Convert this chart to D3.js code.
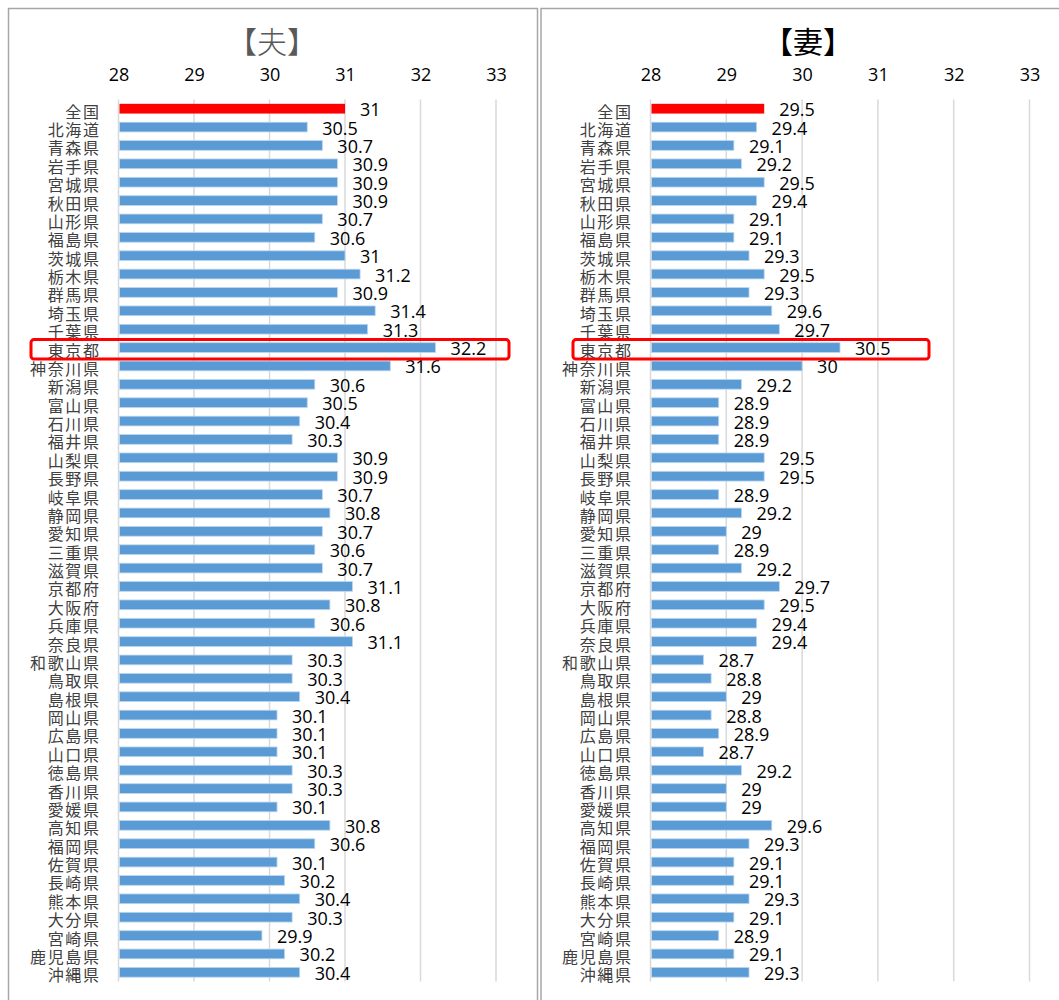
<!DOCTYPE html>
<html>
<head>
<meta charset="utf-8">
<script src="https://cdn.jsdelivr.net/npm/d3@7"></script>
<style>
  html, body { margin: 0; padding: 0; background: #fff; }
  svg { display: block; }
</style>
</head>
<body>
<svg id="chart" width="1059" height="1000"></svg>
<script>
// Prefectures (with the national figure first)
const prefectures = [
  "全国","北海道","青森県","岩手県","宮城県","秋田県","山形県","福島県","茨城県","栃木県",
  "群馬県","埼玉県","千葉県","東京都","神奈川県","新潟県","富山県","石川県","福井県","山梨県",
  "長野県","岐阜県","静岡県","愛知県","三重県","滋賀県","京都府","大阪府","兵庫県","奈良県",
  "和歌山県","鳥取県","島根県","岡山県","広島県","山口県","徳島県","香川県","愛媛県","高知県",
  "福岡県","佐賀県","長崎県","熊本県","大分県","宮崎県","鹿児島県","沖縄県"
];

// Average age at first marriage – husband
const husbandAge = [
  31,30.5,30.7,30.9,30.9,30.9,30.7,30.6,31,31.2,
  30.9,31.4,31.3,32.2,31.6,30.6,30.5,30.4,30.3,30.9,
  30.9,30.7,30.8,30.7,30.6,30.7,31.1,30.8,30.6,31.1,
  30.3,30.3,30.4,30.1,30.1,30.1,30.3,30.3,30.1,30.8,
  30.6,30.1,30.2,30.4,30.3,29.9,30.2,30.4
];

// Average age at first marriage – wife
const wifeAge = [
  29.5,29.4,29.1,29.2,29.5,29.4,29.1,29.1,29.3,29.5,
  29.3,29.6,29.7,30.5,30,29.2,28.9,28.9,28.9,29.5,
  29.5,28.9,29.2,29,28.9,29.2,29.7,29.5,29.4,29.4,
  28.7,28.8,29,28.8,28.9,28.7,29.2,29,29,29.6,
  29.3,29.1,29.1,29.3,29.1,28.9,29.1,29.3
];

const xTicks = [28, 29, 30, 31, 32, 33];
const xDomain = [28, 33];
const highlighted = "東京都";
const nationalLabel = "全国";

const svg = d3.select("#chart");

const numFont = "'Open Sans', 'Noto Sans', sans-serif";
const jpFont = "'Noto Sans CJK JP', 'Noto Sans', sans-serif";

function drawPanel(cfg) {
  const g = svg.append("g");

  // panel frame
  g.append("rect")
    .attr("x", cfg.frameX).attr("y", 8.5)
    .attr("width", cfg.frameW).attr("height", 1100)
    .attr("fill", "#fff")
    .attr("stroke", "#a6a6a6").attr("stroke-width", 1.5);

  const x = d3.scaleLinear().domain(xDomain).range([cfg.x0, cfg.x1]);
  const y = d3.scaleBand().domain(prefectures).range([99.5, 981.5]).paddingInner(0.47).paddingOuter(0.235);

  // title
  g.append("text")
    .attr("x", cfg.titleX).attr("y", 40)
    .attr("text-anchor", "middle").attr("dominant-baseline", "central")
    .attr("font-family", jpFont).attr("font-size", 30)
    .attr("font-weight", cfg.titleWeight)
    .attr("fill", cfg.titleColor)
    .text(cfg.title);

  // vertical gridlines
  g.append("g").selectAll("line").data(xTicks).join("line")
    .attr("x1", d => x(d)).attr("x2", d => x(d))
    .attr("y1", 99.5).attr("y2", 981.5)
    .attr("stroke", "#d9d9d9").attr("stroke-width", 1.5);

  // top axis tick labels
  const axis = d3.axisTop(x).tickValues(xTicks).tickSize(0).tickPadding(0).tickFormat(d3.format("d"));
  const ax = g.append("g").attr("transform", "translate(0,74)").call(axis);
  ax.select(".domain").remove();
  ax.selectAll("text")
    .attr("font-family", numFont).attr("font-size", 18)
    .attr("fill", "#000").attr("dy", null)
    .attr("dominant-baseline", "central");

  // category labels
  g.append("g").selectAll("text").data(prefectures).join("text")
    .attr("x", x(xDomain[0]) - 18)
    .attr("y", d => y(d) + y.bandwidth() / 2 + 2)
    .attr("text-anchor", "end").attr("dominant-baseline", "central")
    .attr("font-family", jpFont).attr("font-size", 16)
    .attr("letter-spacing", 1.6)
    .attr("fill", "#404040")
    .text(d => d);

  // bars
  g.append("g").selectAll("rect").data(cfg.values).join("rect")
    .attr("x", x(xDomain[0]) + 1)
    .attr("y", (d, i) => y(prefectures[i]))
    .attr("width", d => x(d) - x(xDomain[0]) - 1)
    .attr("height", y.bandwidth())
    .attr("fill", (d, i) => prefectures[i] === nationalLabel ? "#ff0000" : "#5b9bd5")
    .attr("stroke", (d, i) => prefectures[i] === nationalLabel ? "none" : "#bdd7ee")
    .attr("stroke-width", 0.8);

  // value labels
  g.append("g").selectAll("text").data(cfg.values).join("text")
    .attr("x", d => x(d) + 15)
    .attr("y", (d, i) => y(prefectures[i]) + y.bandwidth() / 2 + 0.5)
    .attr("dominant-baseline", "central")
    .attr("font-family", numFont).attr("font-size", 18)
    .attr("fill", "#000")
    .text(d => d);

  // highlight box around Tokyo
  const cy = y(highlighted) + y.bandwidth() / 2 + 1.5;
  g.append("rect")
    .attr("x", cfg.boxX0).attr("y", cy - 9.5)
    .attr("width", cfg.boxX1 - cfg.boxX0).attr("height", 19.5)
    .attr("rx", 3)
    .attr("fill", "none")
    .attr("stroke", "#ff0000").attr("stroke-width", 3);
}

drawPanel({
  title: "【夫】", titleColor: "#595959", titleWeight: 300, titleX: 272,
  frameX: 8.5, frameW: 529,
  x0: 118.5, x1: 496,
  values: husbandAge,
  boxX0: 31, boxX1: 509
});

drawPanel({
  title: "【妻】", titleColor: "#000", titleWeight: 400, titleX: 808,
  frameX: 541, frameW: 530,
  x0: 650.5, x1: 1029.5,
  values: wifeAge,
  boxX0: 573, boxX1: 929
});
</script>
</body>
</html>
